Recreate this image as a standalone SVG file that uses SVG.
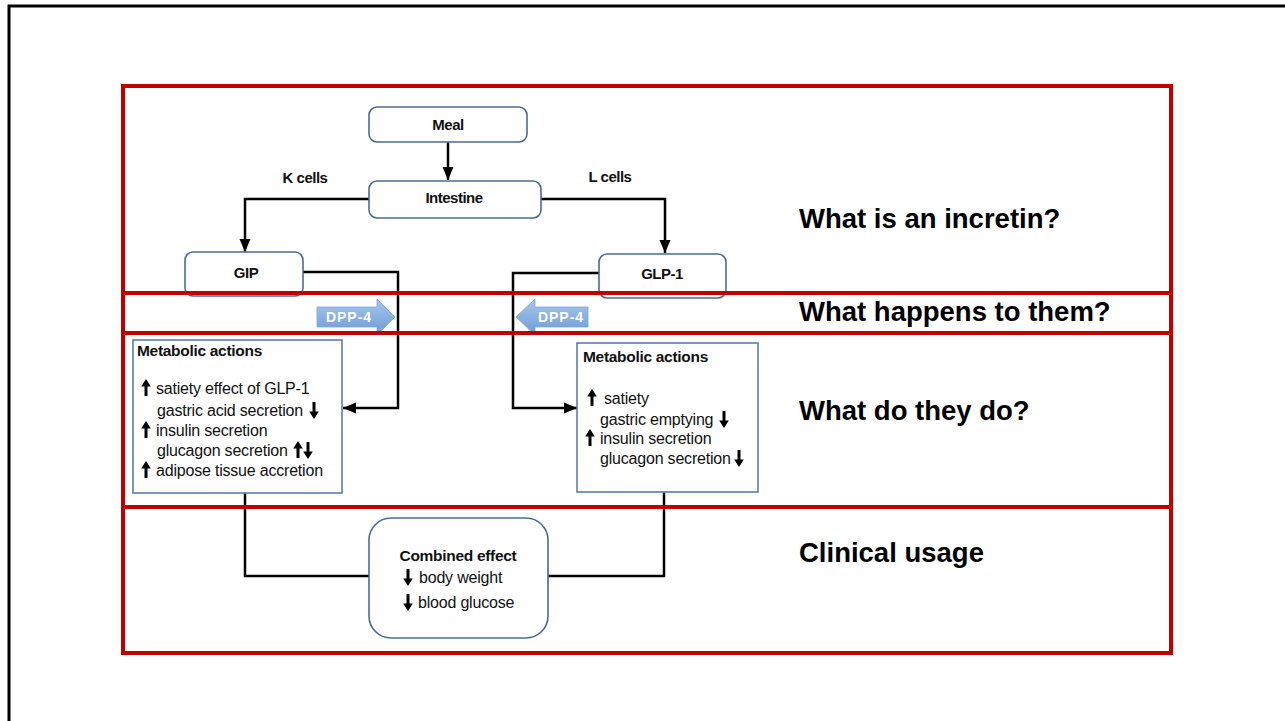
<svg xmlns="http://www.w3.org/2000/svg" xmlns:xlink="http://www.w3.org/1999/xlink" width="1285" height="721" viewBox="0 0 1285 721">
<style>
.node{fill:#fff;stroke:#4d6b91;stroke-width:1.6}
.mbox{fill:#fff;stroke:#5b7fa8;stroke-width:1.6}
.lbl{font-family:"Liberation Sans",Arial,sans-serif;font-weight:bold;font-size:15px;letter-spacing:-0.5px;fill:#111;text-anchor:middle}
.ttl{font-family:"Liberation Sans",Arial,sans-serif;font-weight:bold;font-size:15.5px;letter-spacing:-0.3px;fill:#111}
.txt{font-family:"Liberation Sans",Arial,sans-serif;font-size:16px;letter-spacing:-0.2px;fill:#111}
.big{font-family:"Liberation Sans",Arial,sans-serif;font-weight:bold;font-size:27.5px;fill:#000}
.dpp{font-family:"Liberation Sans",Arial,sans-serif;font-weight:bold;font-size:14px;letter-spacing:1px;fill:#fff;text-anchor:middle}
.con{fill:none;stroke:#000;stroke-width:2.5}
.red{fill:none;stroke:#c00000;stroke-width:4}
.ind{stroke:#000;stroke-width:3;fill:none}
</style>
<defs>
<marker id="ah" markerUnits="userSpaceOnUse" markerWidth="14" markerHeight="14" viewBox="0 0 14 14" refX="13" refY="7" orient="auto">
<path d="M0,1.5 L13,7 L0,12.5 Z" fill="#000"/>
</marker>
<linearGradient id="dg" x1="0" y1="0" x2="0" y2="1">
<stop offset="0" stop-color="#a9c6ea"/>
<stop offset="1" stop-color="#6c9bd6"/>
</linearGradient>
<g id="up"><line class="ind" x1="0" y1="8" x2="0" y2="-3"/><path d="M-4.8,-1.5 L4.8,-1.5 L0,-9 Z" fill="#000"/></g>
<g id="dn"><line class="ind" x1="0" y1="-8" x2="0" y2="3"/><path d="M-4.8,1.5 L4.8,1.5 L0,9 Z" fill="#000"/></g>
</defs>
<rect width="1285" height="721" fill="#fff"/>
<path d="M9,721 L9,6 L1285,6" fill="none" stroke="#000" stroke-width="3"/>

<g id="connectors">
<path class="con" d="M448,142 V180" marker-end="url(#ah)"/>
<path class="con" d="M369,199 H245 V252" marker-end="url(#ah)"/>
<path class="con" d="M541,199 H665 V253" marker-end="url(#ah)"/>
<path class="con" d="M303,272 H398 V408 H343" marker-end="url(#ah)"/>
<path class="con" d="M599,273 H513 V408 H577" marker-end="url(#ah)"/>
<path class="con" d="M245,493 V576 H369"/>
<path class="con" d="M664,492 V576 H548"/>
</g>

<g id="meal"><rect class="node" x="369" y="107" width="158" height="35" rx="8"/><text class="lbl" x="448" y="130">Meal</text></g>
<g id="intestine"><rect class="node" x="369" y="181" width="172" height="37" rx="8"/><text class="lbl" x="454" y="203">Intestine</text></g>
<g id="kcells"><text class="lbl" x="305" y="183">K cells</text></g>
<g id="lcells"><text class="lbl" x="610" y="182">L cells</text></g>
<g id="gip"><rect class="node" x="185" y="252" width="118" height="44" rx="8"/><text class="lbl" x="246" y="278">GIP</text></g>
<g id="glp1"><rect class="node" x="599" y="254" width="127" height="44" rx="8"/><text class="lbl" x="662" y="279">GLP-1</text></g>

<g id="dpp4-left"><path d="M317,307 H377 V299 L395,317 L377,335 V327 H317 Z" fill="url(#dg)" stroke="#7ea6d8" stroke-width="0.8"/><text class="dpp" x="349" y="322">DPP-4</text></g>
<g id="dpp4-right"><path d="M588,307 H535 V299 L516,317 L535,335 V327 H588 Z" fill="url(#dg)" stroke="#7ea6d8" stroke-width="0.8"/><text class="dpp" x="561" y="322">DPP-4</text></g>

<g id="gip-actions">
<rect class="mbox" x="133" y="340" width="209" height="153"/>
<text class="ttl" x="137" y="356">Metabolic actions</text>
<use xlink:href="#up" x="146" y="388"/><text class="txt" x="156" y="394">satiety effect of GLP-1</text>
<text class="txt" x="157" y="416">gastric acid secretion</text><use xlink:href="#dn" x="314" y="410"/>
<use xlink:href="#up" x="146" y="430"/><text class="txt" x="156" y="436">insulin secretion</text>
<text class="txt" x="157" y="456">glucagon secretion</text><use xlink:href="#up" x="298" y="450"/><use xlink:href="#dn" x="308" y="450"/>
<use xlink:href="#up" x="146" y="470"/><text class="txt" x="156" y="476">adipose tissue accretion</text>
</g>

<g id="glp1-actions">
<rect class="mbox" x="577" y="343" width="181" height="149"/>
<text class="ttl" x="583" y="362">Metabolic actions</text>
<use xlink:href="#up" x="592" y="398"/><text class="txt" x="604" y="404">satiety</text>
<text class="txt" x="600" y="425">gastric emptying</text><use xlink:href="#dn" x="724" y="419"/>
<use xlink:href="#up" x="590" y="438"/><text class="txt" x="600" y="444">insulin secretion</text>
<text class="txt" x="600" y="464">glucagon secretion</text><use xlink:href="#dn" x="739" y="458"/>
</g>

<g id="combined">
<rect class="node" x="369" y="518" width="179" height="120" rx="22"/>
<text class="ttl" x="458" y="561" text-anchor="middle">Combined effect</text>
<use xlink:href="#dn" x="408" y="577"/><text class="txt" x="419" y="583">body weight</text>
<use xlink:href="#dn" x="408" y="602"/><text class="txt" x="418" y="608">blood glucose</text>
</g>

<g id="sections">
<rect class="red" x="123" y="86" width="1048" height="207"/>
<rect class="red" x="123" y="293" width="1048" height="40"/>
<rect class="red" x="123" y="333" width="1048" height="174"/>
<rect class="red" x="123" y="507" width="1048" height="146"/>
</g>

<g id="labels">
<text class="big" x="799" y="228">What is an incretin?</text>
<text class="big" x="799" y="321">What happens to them?</text>
<text class="big" x="799" y="420">What do they do?</text>
<text class="big" x="799" y="562">Clinical usage</text>
</g>
</svg>
